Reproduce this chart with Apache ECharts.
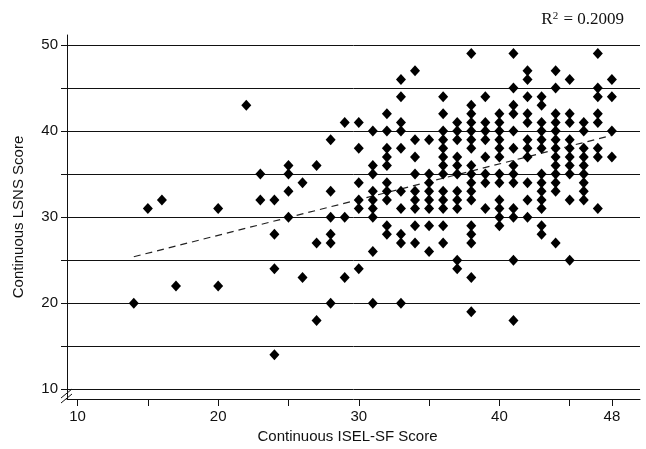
<!DOCTYPE html>
<html>
<head>
<meta charset="utf-8">
<script src="https://cdn.jsdelivr.net/npm/echarts@6/dist/echarts.min.js"></script>
<style>
  html, body { margin: 0; padding: 0; background: #fff; }
</style>
</head>
<body>
<div id="main" style="width: 646px; height: 449px;"></div>
<script>
// ISEL-SF score of each column, and the LSNS scores found at that score
const iselScores = [14, 15, 16, 17, 20, 22, 23, 24, 25, 26, 27, 28, 29, 30, 31, 32, 33, 34, 35,
  36, 37, 38, 39, 40, 41, 42, 43, 44, 45, 46, 47, 48];
const lsnsByIsel = [
  [20], [31], [32], [22], [31, 22], [43], [35, 32],
  [32, 28, 24, 14],
  [36, 35, 33, 30],
  [34, 23],
  [36, 27, 18],
  [39, 33, 30, 28, 27, 20],
  [41, 30, 23],
  [41, 38, 34, 32, 31, 24],
  [40, 36, 35, 33, 32, 31, 30, 26, 20],
  [42, 40, 38, 37, 36, 34, 33, 32, 29, 28],
  [46, 44, 41, 40, 38, 33, 31, 28, 27, 20],
  [47, 39, 37, 35, 33, 32, 31, 29, 27],
  [39, 35, 34, 33, 32, 31, 29, 26],
  [44, 42, 40, 39, 38, 37, 36, 35, 33, 32, 31, 29, 27],
  [41, 40, 39, 37, 36, 35, 33, 32, 31, 25, 24],
  [49, 43, 42, 41, 40, 39, 38, 36, 35, 34, 33, 32, 29, 28, 27, 23, 19],
  [44, 41, 40, 39, 37, 35, 34, 31],
  [42, 41, 40, 39, 38, 37, 35, 34, 32, 31, 30, 29],
  [49, 45, 43, 42, 40, 38, 36, 35, 34, 31, 30, 25, 18],
  [47, 46, 44, 42, 41, 39, 38, 37, 34, 32, 30],
  [44, 43, 41, 40, 39, 38, 35, 34, 33, 32, 31, 29, 28],
  [47, 45, 42, 41, 40, 39, 38, 37, 36, 35, 34, 33, 27],
  [46, 42, 41, 39, 38, 37, 36, 35, 32, 25],
  [41, 40, 38, 37, 36, 35, 34, 33, 32],
  [49, 45, 44, 42, 41, 38, 37, 31],
  [46, 44, 40, 37]
];
// fitted line end points
const trendX = [14, 48];
const trendY = [25.4, 39.5];

const xTicks = [10, 15, 20, 25, 30, 35, 40, 45, 48];
const xLabels = [10, 20, 30, 40, 48];
const yTicks = [10, 15, 20, 25, 30, 35, 40, 45, 50];
const yLabels = [10, 20, 30, 40, 50];

const points = [];
iselScores.forEach((x, i) => {
  lsnsByIsel[i].forEach(y => points.push([x, y]));
});
const trend = trendX.map((x, i) => [x, trendY[i]]);

const ink = '#111';
const font = 'Liberation Sans';

const myChart = echarts.init(document.getElementById('main'));
const option = {
  animation: false,
  backgroundColor: '#fff',
  title: {
    text: 'R{sup|2} = 0.2009',
    right: 17,
    top: 6,
    textStyle: {
      fontFamily: 'Liberation Serif',
      fontSize: 17,
      fontWeight: 'normal',
      color: ink,
      rich: {
        sup: { fontFamily: 'Liberation Serif', fontSize: 11, verticalAlign: 'top', color: ink, padding: [0, 1, 7, 0] }
      }
    }
  },
  grid: { left: 67, right: 6, top: 35, bottom: 50 },
  xAxis: {
    type: 'value',
    min: 9.25,
    max: 50,
    name: 'Continuous ISEL-SF Score',
    nameLocation: 'middle',
    nameGap: 30,
    nameTextStyle: { fontFamily: font, fontSize: 15, color: ink, padding: [0, 12, 0, 0] },
    axisLine: { onZero: false, lineStyle: { color: ink, width: 1 } },
    axisTick: { customValues: xTicks, length: 7, lineStyle: { color: ink } },
    axisLabel: { customValues: xLabels, fontFamily: font, fontSize: 15, color: ink, margin: 10 },
    splitLine: { show: false }
  },
  yAxis: {
    type: 'value',
    min: 8.87,
    max: 51.16,
    name: 'Continuous LSNS Score',
    nameLocation: 'middle',
    nameGap: 41,
    nameTextStyle: { fontFamily: font, fontSize: 15, color: ink },
    axisLine: { onZero: false, lineStyle: { color: ink, width: 1 } },
    axisTick: { customValues: yTicks, length: 6, lineStyle: { color: ink } },
    axisLabel: { customValues: yLabels, fontFamily: font, fontSize: 15, color: ink, margin: 9 },
    splitLine: { show: true, lineStyle: { color: ink, width: 1 } }
  },
  series: [
    {
      type: 'scatter',
      data: points,
      symbol: 'diamond',
      symbolSize: [10, 11],
      itemStyle: { color: '#000', opacity: 1 },
      z: 3
    },
    {
      type: 'line',
      data: trend,
      symbol: 'none',
      lineStyle: { color: '#222', width: 1.2, type: [7, 5] },
      z: 2
    }
  ]
};
myChart.setOption(option);

// axis break mark near the bottom of the y axis
const p = myChart.convertToPixel({ gridIndex: 0 }, [9.25, 9.45]);
myChart.setOption({
  graphic: [0, 5].map(d => ({
    type: 'line',
    shape: { x1: p[0] - 6, y1: p[1] + 4 + d, x2: p[0] + 5, y2: p[1] - 5 + d },
    style: { stroke: ink, lineWidth: 1 }
  }))
});
</script>
</body>
</html>
